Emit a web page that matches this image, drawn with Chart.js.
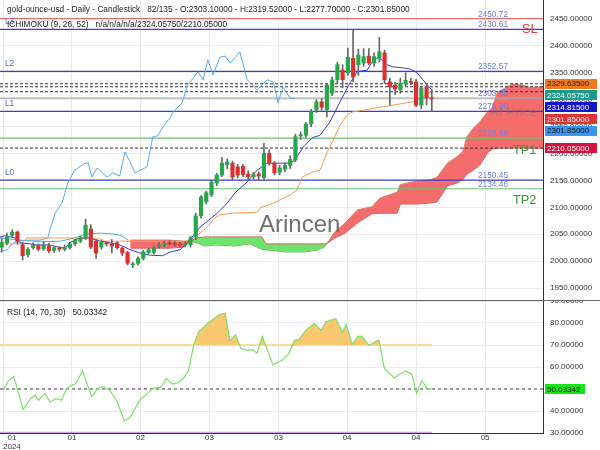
<!DOCTYPE html>
<html>
<head>
<meta charset="utf-8">
<script src="https://cdn.jsdelivr.net/npm/chart.js@4.4.1/dist/chart.umd.min.js"></script>
<style>
  html, body { margin: 0; padding: 0; background: #fff; }
  #wrap { position: relative; width: 600px; height: 450px; }
  #mainChart { position: absolute; left: 0; top: 0; }
  #rsiChart { position: absolute; left: 0; top: 300px; }
</style>
</head>
<body>
<div id="wrap">
  <canvas id="mainChart" width="600" height="300"></canvas>
  <canvas id="rsiChart" width="600" height="150"></canvas>
</div>
<script>
// candles (daily)
const opens  = [2026,2034,2048,2054,2030,2012,2025,2029,2023,2028,2020,2024,2022,2025,2032,2037,2043,2060,2037,2026,2034,2032,2034,2024,2016,1993,1996,2005,2016,2016,2028,2030,2034,2033,2032,2030,2030,2045,2084,2110,2123,2145,2160,2179,2182,2175,2176,2162,2157,2162,2155,2200,2182,2165,2171,2178,2188,2233,2234,2255,2281,2296,2281,2312,2337,2355,2350,2377,2365,2368,2381,2368,2377,2387,2333,2327,2318,2329,2334,2333,2290,2324,2303.1];
const highs  = [2043,2052,2058,2056,2034,2025,2034,2032,2036,2033,2027,2027,2030,2035,2041,2046,2078,2068,2040,2038,2036,2040,2036,2026,2018,1998,2008,2020,2024,2028,2034,2037,2038,2036,2035,2036,2046,2089,2122,2130,2150,2163,2193,2190,2186,2180,2180,2168,2165,2166,2219,2207,2185,2178,2182,2196,2236,2240,2258,2282,2300,2302,2330,2342,2370,2365,2396,2431,2394,2395,2395,2387,2416,2392,2340,2332,2340,2350,2340,2338,2325,2327,2319.52];
const lows   = [2017,2030,2045,2032,2002,2008,2022,2019,2020,2015,2016,2018,2019,2022,2028,2034,2040,2023,2005,2022,2028,2015,2022,2010,1993,1988,1993,2002,2013,2013,2024,2026,2030,2028,2026,2026,2026,2040,2080,2106,2120,2140,2157,2172,2150,2155,2157,2150,2152,2150,2150,2178,2160,2160,2166,2172,2185,2226,2230,2250,2276,2280,2268,2308,2330,2322,2345,2333,2345,2362,2365,2362,2370,2330,2290,2310,2312,2325,2328,2287,2283,2290,2277.7];
const closes = [2035,2045,2054,2036,2010,2022,2030,2022,2030,2019,2025,2022,2026,2032,2039,2043,2067,2026,2015,2035,2032,2028,2025,2015,1996,1995,2005,2017,2021,2025,2030,2032,2032,2031,2030,2031,2043,2084,2119,2127,2147,2160,2182,2184,2156,2160,2161,2157,2161,2158,2200,2182,2164,2173,2178,2189,2231,2234,2255,2279,2296,2286,2327,2337,2365,2337,2379,2342,2383,2380,2368,2380,2389,2337,2324,2320,2331,2336,2332,2290,2322,2303,2301.85];

// ichimoku lines, read at their vertices (x = bar index)
const tenkanX = [-0.3,0.6,2.6,3.5,5.4,6.7,9.2,10.8,12.1,13,13.9,14.9,16.8,18.8,20.6,22.5,23.9,24.5,26.4,28.3,30.7,32.1,34,35.4,36.5,37.8,39.1,41.1,43,44.5,46.8,48.7,50.6,55,55.9,57.5,59.2,60.7,62.6,64.5,66.4,67.8,69.7,70.6,71.7,72.5,73.5,74.6,76.6,77.9,79.2,80.3,82];
const tenkanY = [2045,2047,2043,2034,2032,2030,2030,2026,2024,2034,2039,2043,2043,2037,2034,2030,2024,2021,2015,2011,2010,2017,2021,2034,2047,2063,2073,2089,2108,2127,2147,2169,2182,2182,2188,2212,2229,2234,2259,2296,2331,2352,2355,2370,2378,2374,2365,2361,2359,2357,2350,2337,2318];
const kijunX = [-0.3,3.9,4.8,13,18.8,19.7,35,35.9,37.8,39.1,40.7,41.6,44.2,48.7,49.3,51.8,55,56.3,57.3,59.4,60.7,62,63.2,64.5,65.9,66.8,74.6,78.4,79.8,81.7,82];
const kijunY = [2032,2032,2043,2043,2041,2037,2037,2039,2052,2063,2080,2086,2089,2091,2099,2108,2123,2132,2156,2166,2169,2201,2225,2253,2272,2277,2290,2296,2303,2314,2316];
const chikouX = [-0.3,1,2.2,3.1,4.8,7.3,8.8,9.2,10.2,11.5,12.6,13.9,15.9,16.5,17.2,18.2,20.1,21.2,22.5,23.5,24.5,25.4,27.7,28.8,29.8,30.7,32.1,32.7,34.4,35.4,36.5,37.4,38.4,39.3,40.3,41.6,42.6,43.6,45.4,46.8,48.7,50.6,51.8,52.7,53.6,55,56];
const chikouY = [2017,2021,2034,2037,2039,2039,2043,2058,2089,2108,2145,2169,2182,2182,2156,2173,2156,2164,2158,2203,2184,2164,2175,2231,2233,2249,2266,2277,2294,2327,2340,2352,2337,2374,2346,2379,2381,2368,2389,2337,2318,2337,2333,2294,2324,2303,2302];
const tealX = [-0.3,3.5,7.3,11.2,13.9,15.9,18.8,21.6,22.9,24.1];
const tealY = [2043,2039,2036,2037,2043,2050,2052,2050,2047,2039];
const cloudX = [24.5,28.3,32.1,34.6,35.9,37.2,38.7,40.7,44.5,47.3,49.6,50.4,54,57.9,60.4,61.5,62.2,63.5,65.5,67.8,70.6,72.1,75.4,76,79.2,81.7,83,85,86.8,87.9,88.7,89.9,91.2,92.6,93.5,94.5,96.3,97.5,99.4,100.8,103.2,104.6];
const spanA = [2024,2024,2024,2026,2037,2043,2045,2045,2045,2045,2045,2032,2032,2032,2032,2032,2034,2043,2052,2071,2088,2089,2089,2106,2106,2108,2110,2140,2145,2151,2162,2169,2179,2201,2208,2210,2210,2210,2210,2210,2210,2210];
const spanB = [2039,2039,2039,2037,2037,2034,2028,2030,2028,2032,2022,2021,2017,2017,2021,2026,2035,2054,2071,2095,2101,2117,2128,2142,2149,2151,2156,2182,2194,2203,2231,2247,2259,2277,2285,2313,2324,2329,2327,2322,2324,2324];

// RSI
const rsiX = [0.3,1.2,2.3,4.1,5.5,6.4,7,8.3,9.2,10.3,11.4,12.4,14.2,15.4,17.2,18.3,19.4,20.5,21.9,23.4,24.5,26.3,27.8,28.8,30.3,31.4,32.5,33.6,34.7,35.6,36.6,37.6,39.4,41.6,42.6,43.5,44.6,45.6,46.9,47.8,48.7,49.7,51.7,53.4,54.7,55.9,56.6,58.1,59.6,60.9,61.8,63.7,65,65.7,66.8,67.9,68.7,70,71.9,73,74.9,76,77.1,78.2,79.1,80.1,81.1,82];
const rsiY = [49.6,53.5,55.8,40.6,45.6,47.2,44.9,48,44.1,45.6,44.9,50.3,52.7,58.2,46.4,50.3,51.1,49.6,44.9,35.5,37,44.9,48,50.3,50.7,54.7,52.2,52.7,55,58.2,69.9,76.2,80.1,84,84.5,72,74.6,68.4,67.6,67.9,66.3,73.9,61,62.9,66,72.3,72.3,77,79.7,76.7,80.6,82,75.7,79.3,70.3,73.9,73.9,69.9,72.3,59,55,56.9,58.2,56.6,48,53.8,50.3,50.03342];
const rsiUpper = 70, rsiLower = 30, rsiMid = 50.03342;

// axes
const xMin = -0.32, xMax = 103.2;
const priceMin = 1927.7, priceMax = 2485.3;
const priceTicks = [1950,2000,2050,2100,2150,2200,2250,2300,2350,2400,2450];
const rsiTicks = [30,40,50,60,70,80,90];
const xTickPos = [0.29,13.4,26.47,39.63,52.78,65.85,79.0,92.16];
const xTickLabels = ['01','01','02','03','03','04','04','05'];
const xTickYears = ['2024','','','','','','',''];

// levels
const levelValues = [2450.72,2430.61,2352.57,2303.05,2278.30,2228.48,2150.45,2134.46];
const levelNames = ['','L3','L2','','L1','','L0',''];
const levelKinds = ['stop','level','level','price','level','target','level','target'];
const dashedValues = [2329.635,2324.0575,2314.815,2210.05];
const tagValues = [2329.635,2324.0575,2314.815,2301.85,2301.85,2210.05];
const tagKinds = ['kijun','spanB','tenkan','close','chikou','spanA'];
const markerTexts = ['SL','TP1','TP2'];
const markerValues = [2430.61,2210.05,2134.46];

const titleText = 'gold-ounce-usd - Daily - Candlestick   82/135 - O:2303.10000 - H:2319.52000 - L:2277.70000 - C:2301.85000';
const ichiText = 'ICHIMOKU (9, 26, 52)   n/a/n/a/n/a/2324.05750/2210.05000';
const rsiText = 'RSI (14, 70, 30)   50.03342';

// styles
const FONT = '"Liberation Sans", Arial, sans-serif';
const levelStyle = { stop: '#f06a6a', level: '#3c3cd0', price: '#a8a8a8', target: '#6cc06c' };
const tagStyle = {
  kijun: ['#f07a1e', '#222'], spanB: ['#1e9a8c', '#fff'], tenkan: ['#1414c8', '#fff'],
  close: ['#e23232', '#fff'], chikou: ['#3a96f0', '#111'], spanA: ['#d8103c', '#fff']
};
const markerColors = ['#e03c3c', '#3c9a3c', '#3c9a3c'];
const markerShift = [0, 2, 12];

Chart.defaults.animation = false;
Chart.defaults.font.family = FONT;
Chart.defaults.plugins.legend.display = false;
Chart.defaults.plugins.tooltip.enabled = false;

const pts = (xs, ys) => xs.map((x, i) => ({ x: x, y: ys[i] }));
const bars = opens.map((_, i) => i);

function hLine(v, color, width, dash, order, x1) {
  return {
    type: 'line', data: [{ x: xMin, y: v }, { x: x1 === undefined ? xMax : x1, y: v }],
    borderColor: color, borderWidth: width, borderDash: dash || [], pointRadius: 0, fill: false, order: order
  };
}

function lineSet(xs, ys, color, order) {
  return { type: 'line', data: pts(xs, ys), borderColor: color, borderWidth: 1, pointRadius: 0, fill: false, order: order };
}

const datasets = [];
datasets.push({
  type: 'bar', data: bars.map(i => ({ x: i, y: [opens[i], closes[i]] })),
  backgroundColor: bars.map(i => closes[i] >= opens[i] ? '#26a84a' : '#dc3030'),
  barThickness: 3.5, grouped: false, minBarLength: 1, order: 1
});
datasets.push({
  type: 'bar', data: bars.map(i => ({ x: i, y: [lows[i], highs[i]] })),
  backgroundColor: '#666', barThickness: 1, grouped: false, minBarLength: 1, order: 2
});
datasets.push(lineSet(tenkanX, tenkanY, '#3c3cd0', 5));
datasets.push(lineSet(kijunX, kijunY, '#f59a55', 6));
datasets.push(lineSet(chikouX, chikouY, '#5aaaf0', 7));
levelValues.forEach((v, i) => datasets.push(hLine(v, levelStyle[levelKinds[i]], 1.2, null, 8)));
dashedValues.forEach(v => datasets.push(hLine(v, '#333', 1, [3, 2], 8)));
datasets.push(lineSet(tealX, tealY, '#4db6ac', 9));

const spanBIndex = datasets.length;
const edgeColor = ctx => spanA[ctx.p0DataIndex] >= spanB[ctx.p0DataIndex] ? '#4cc84c' : '#e06060';
datasets.push({
  type: 'line', data: pts(cloudX, spanB), borderColor: '#e06060', borderWidth: 1,
  segment: { borderColor: edgeColor }, pointRadius: 0, fill: false, order: 11
});
datasets.push({
  type: 'line', data: pts(cloudX, spanA), borderColor: '#e06060', borderWidth: 1, pointRadius: 0,
  fill: { target: spanBIndex, above: 'rgb(110,228,110)', below: 'rgb(245,108,108)' }, order: 10
});

function xScale() {
  return {
    type: 'linear', min: xMin, max: xMax, offset: false,
    afterBuildTicks: s => { s.ticks = xTickPos.map(v => ({ value: v })); },
    ticks: { display: false },
    grid: { color: '#ebebeb', drawTicks: false, offset: false },
    border: { display: false }
  };
}

// right axis with fixed width and no extra top/bottom padding
function yScale(min, max, tickValues) {
  return {
    position: 'right', min: min, max: max,
    afterBuildTicks: s => { s.ticks = tickValues.map(v => ({ value: v })); },
    afterFit: s => { s.width = 57; s.paddingTop = 0; s.paddingBottom = 0; },
    ticks: { callback: v => v.toFixed(5), font: { size: 8 }, color: '#333', padding: 7 },
    grid: { color: '#ebebeb', drawTicks: false },
    border: { color: '#333' }
  };
}

const mainText = {
  id: 'mainText',
  afterDraw(chart) {
    const ctx = chart.ctx, y = chart.scales.y;
    ctx.save();
    ctx.textBaseline = 'alphabetic';
    ctx.textAlign = 'left';
    ctx.font = '24px ' + FONT;
    ctx.fillStyle = 'rgba(95,95,95,0.9)';
    ctx.fillText('Arincen', 259, 232);
    ctx.font = '13.5px ' + FONT;
    ctx.fillStyle = 'rgba(120,120,120,0.45)';
    ctx.fillText('AI Price', 490, 116);

    ctx.font = '8.3px ' + FONT;
    levelValues.forEach((v, i) => {
      const py = y.getPixelForValue(v);
      ctx.fillStyle = '#6f7fe0';
      ctx.fillText(v.toFixed(2), 478, py - 2);
      if (levelNames[i]) {
        ctx.fillStyle = '#5568d8';
        ctx.fillText(levelNames[i], 5, py - 5);
      }
    });

    ctx.textBaseline = 'middle';
    ctx.font = '12.8px ' + FONT;
    markerTexts.forEach((t, i) => {
      ctx.fillStyle = markerColors[i];
      ctx.fillText(t, 513 + (i === 0 ? 9 : 0), y.getPixelForValue(markerValues[i]) + markerShift[i]);
    });

    ctx.font = '8.3px ' + FONT;
    ctx.fillStyle = '#222';
    ctx.fillText(titleText, 7, 10);
    ctx.fillText(ichiText, 7, 25);

    // price tags on the right axis
    ctx.font = '8px ' + FONT;
    let prev = -100;
    tagValues.forEach((v, i) => {
      let py = Math.max(y.getPixelForValue(v), prev + 11.7);
      prev = py;
      const st = tagStyle[tagKinds[i]];
      ctx.fillStyle = st[0];
      ctx.fillRect(545, Math.round(py - 5), 52, 10);
      ctx.fillStyle = st[1];
      ctx.fillText(v.toFixed(5), 547, py + 0.5);
    });
    ctx.restore();
  }
};

new Chart(document.getElementById('mainChart'), {
  type: 'bar',
  data: { datasets: datasets },
  options: {
    responsive: false,
    layout: { padding: 0 },
    scales: { x: xScale(), y: yScale(priceMin, priceMax, priceTicks) }
  },
  plugins: [mainText]
});

const rsiText2 = {
  id: 'rsiText',
  afterDraw(chart) {
    const ctx = chart.ctx, x = chart.scales.x, y = chart.scales.y;
    ctx.save();
    ctx.fillStyle = '#666';
    ctx.fillRect(0, 0, 600, 1);
    ctx.font = '8.3px ' + FONT;
    ctx.fillStyle = '#222';
    ctx.textBaseline = 'middle';
    ctx.textAlign = 'left';
    ctx.fillText(rsiText, 7, 13);

    // value tag
    ctx.font = '8px ' + FONT;
    const py = y.getPixelForValue(rsiMid);
    ctx.fillStyle = '#18e418';
    ctx.fillRect(545, Math.round(py - 5), 40, 10);
    ctx.fillStyle = '#111';
    ctx.fillText(rsiMid.toFixed(5), 547, py + 0.5);

    // date labels
    ctx.textAlign = 'center';
    xTickPos.forEach((v, i) => {
      const w = Math.max(ctx.measureText(xTickLabels[i]).width, ctx.measureText(xTickYears[i]).width);
      const px = Math.max(x.getPixelForValue(v), 3 + w / 2);
      ctx.fillStyle = '#333';
      ctx.fillText(xTickLabels[i], px, 138);
      if (xTickYears[i]) ctx.fillText(xTickYears[i], px, 147);
    });
    ctx.restore();
  }
};

new Chart(document.getElementById('rsiChart'), {
  type: 'line',
  data: {
    datasets: [
      {
        data: pts(rsiX, rsiY), borderColor: '#7ee06e', borderWidth: 1.2, pointRadius: 0,
        fill: { target: { value: rsiUpper }, above: 'rgb(250,200,110)', below: 'rgba(0,0,0,0)' }, order: 1
      },
      hLine(rsiUpper, 'rgb(250,218,160)', 2, null, 3, 82),
      hLine(rsiLower, 'rgb(205,165,240)', 2.5, null, 3, 82),
      hLine(rsiMid, '#444', 1, [3, 3], 2)
    ]
  },
  options: {
    responsive: false,
    layout: { padding: { top: 1, bottom: 17 } },
    scales: {
      x: Object.assign(xScale(), { border: { display: true, color: '#333' } }),
      y: yScale(30, 90, rsiTicks)
    }
  },
  plugins: [rsiText2]
});
</script>
</body>
</html>
